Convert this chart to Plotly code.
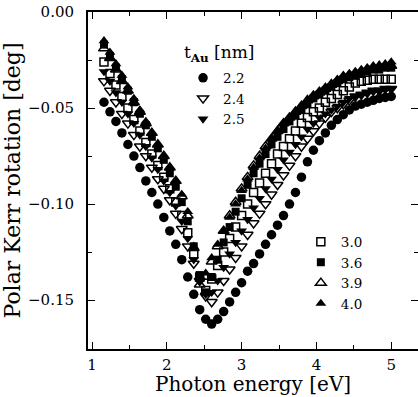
import plotly.graph_objects as go

energy = [1.16, 1.24, 1.32, 1.40, 1.48, 1.56, 1.64, 1.72, 1.80, 1.88,
          1.96, 2.04, 2.12, 2.20, 2.28, 2.36, 2.44, 2.52, 2.60, 2.68,
          2.76, 2.84, 2.92, 3.00, 3.08, 3.16, 3.24, 3.32, 3.40, 3.48,
          3.56, 3.64, 3.72, 3.80, 3.88, 3.96, 4.04, 4.12, 4.20, 4.28,
          4.36, 4.44, 4.52, 4.60, 4.68, 4.76, 4.84, 4.92, 5.00]

kerr_22 = [-0.047, -0.052, -0.057, -0.063, -0.069, -0.075, -0.081, -0.088, -0.094, -0.100,
           -0.107, -0.114, -0.121, -0.129, -0.138, -0.147, -0.155, -0.160, -0.1625, -0.160,
           -0.156, -0.151, -0.146, -0.141, -0.135, -0.131, -0.126, -0.121, -0.116, -0.111,
           -0.106, -0.100, -0.094, -0.086, -0.078, -0.072, -0.067, -0.063, -0.059, -0.056,
           -0.0535, -0.051, -0.049, -0.048, -0.047, -0.046, -0.045, -0.0445, -0.044]

kerr_24 = [-0.036, -0.041, -0.047, -0.053, -0.058, -0.064, -0.070, -0.075, -0.081, -0.087,
           -0.092, -0.098, -0.105, -0.113, -0.122, -0.131, -0.140, -0.148, -0.151, -0.146,
           -0.140, -0.134, -0.128, -0.122, -0.116, -0.110, -0.105, -0.100, -0.095, -0.090,
           -0.085, -0.080, -0.075, -0.070, -0.066, -0.062, -0.058, -0.055, -0.052, -0.050,
           -0.048, -0.046, -0.044, -0.043, -0.042, -0.041, -0.041, -0.040, -0.040]

kerr_25 = [-0.031, -0.036, -0.042, -0.047, -0.053, -0.058, -0.064, -0.070, -0.076, -0.082,
           -0.088, -0.094, -0.101, -0.109, -0.118, -0.129, -0.140, -0.147, -0.146, -0.140,
           -0.133, -0.126, -0.120, -0.114, -0.108, -0.102, -0.097, -0.092, -0.087, -0.082,
           -0.077, -0.073, -0.069, -0.065, -0.061, -0.058, -0.055, -0.053, -0.051, -0.049,
           -0.047, -0.045, -0.044, -0.043, -0.042, -0.041, -0.041, -0.040, -0.040]

kerr_30 = [-0.026, -0.032, -0.038, -0.044, -0.050, -0.056, -0.062, -0.068, -0.074, -0.080,
           -0.086, -0.092, -0.099, -0.106, -0.115, -0.126, -0.138, -0.145, -0.139, -0.132,
           -0.125, -0.118, -0.112, -0.106, -0.100, -0.094, -0.089, -0.084, -0.079, -0.074,
           -0.070, -0.066, -0.062, -0.058, -0.055, -0.052, -0.050, -0.047, -0.045, -0.043,
           -0.041, -0.039, -0.037, -0.036, -0.0355, -0.035, -0.035, -0.035, -0.035]

kerr_36 = [-0.017, -0.023, -0.029, -0.035, -0.041, -0.047, -0.053, -0.059, -0.065, -0.071,
           -0.077, -0.084, -0.091, -0.099, -0.109, -0.122, -0.137, -0.146, -0.138, -0.129,
           -0.120, -0.112, -0.104, -0.097, -0.090, -0.084, -0.079, -0.074, -0.069, -0.065,
           -0.061, -0.057, -0.054, -0.051, -0.048, -0.045, -0.043, -0.041, -0.039, -0.037,
           -0.035, -0.034, -0.033, -0.032, -0.031, -0.030, -0.030, -0.029, -0.029]

kerr_39 = [-0.019, -0.024, -0.030, -0.036, -0.041, -0.047, -0.052, -0.058, -0.063, -0.069,
           -0.075, -0.081, -0.088, -0.096, -0.106, -0.123, -0.142, -0.138, -0.130, -0.122,
           -0.114, -0.106, -0.099, -0.092, -0.086, -0.080, -0.075, -0.070, -0.066, -0.062,
           -0.058, -0.055, -0.052, -0.049, -0.046, -0.044, -0.042, -0.040, -0.038, -0.036,
           -0.034, -0.033, -0.032, -0.031, -0.030, -0.029, -0.029, -0.028, -0.028]

kerr_40 = [-0.015, -0.021, -0.027, -0.033, -0.039, -0.045, -0.051, -0.057, -0.063, -0.069,
           -0.075, -0.081, -0.088, -0.095, -0.104, -0.122, -0.139, -0.136, -0.128, -0.121,
           -0.114, -0.107, -0.100, -0.093, -0.087, -0.081, -0.076, -0.071, -0.066, -0.062,
           -0.058, -0.055, -0.052, -0.049, -0.046, -0.043, -0.041, -0.039, -0.037, -0.035,
           -0.033, -0.032, -0.031, -0.030, -0.029, -0.028, -0.0275, -0.027, -0.026]

thickness_labels = ["2.2", "2.4", "2.5", "3.0", "3.6", "3.9", "4.0"]
series = [kerr_22, kerr_24, kerr_25, kerr_30, kerr_36, kerr_39, kerr_40]
symbols = ["circle", "triangle-down-open", "triangle-down", "square-open",
           "square", "triangle-up-open", "triangle-up"]
sizes = [9.5, 9.5, 9.5, 8, 8, 9.5, 9.5]
legend_ids = ["legend", "legend", "legend", "legend2", "legend2", "legend2", "legend2"]

SERIF = "DejaVu Serif"

fig = go.Figure()
for lab, ys, sym, sz, lg in zip(thickness_labels, series, symbols, sizes, legend_ids):
    fig.add_trace(go.Scatter(
        x=energy, y=ys, mode="markers", name=lab, legend=lg,
        marker=dict(symbol=sym, size=sz, color="black",
                    line=dict(color="black", width=1.5 if "open" in sym else 0)),
    ))

axis_font = dict(family=SERIF, size=15, color="black")
minor_ticks_x = dict(dtick=0.5, tick0=0, ticks="inside", ticklen=4, tickwidth=1, tickcolor="black")
minor_ticks_y = dict(dtick=0.025, tick0=0, ticks="inside", ticklen=4, tickwidth=1, tickcolor="black")

fig.update_layout(
    width=418, height=397,
    margin=dict(l=88, r=0, t=12, b=48),
    paper_bgcolor="white", plot_bgcolor="white",
    font=dict(family=SERIF, color="black"),
    showlegend=True,
    xaxis=dict(range=[0.9465, 5.358], tickvals=[1, 2, 3, 4, 5],
               ticks="inside", ticklen=7, tickwidth=1.2, tickcolor="black",
               minor=minor_ticks_x,
               showline=True, linewidth=2, linecolor="black", mirror="ticks",
               showgrid=False, zeroline=False, tickfont=axis_font, ticklabelstandoff=1),
    yaxis=dict(range=[-0.1755, 0], tickvals=[0, -0.05, -0.10, -0.15], tickformat=".2f",
               ticks="inside", ticklen=7, tickwidth=1.2, tickcolor="black",
               minor=minor_ticks_y,
               showline=True, linewidth=2, linecolor="black",
               showgrid=False, zeroline=False, tickfont=axis_font, ticklabelstandoff=9,
               title=dict(text="Polar Kerr rotation [deg]", standoff=10,
                          font=dict(family=SERIF, size=22, color="black"))),
    yaxis2=dict(range=[-0.1755, 0], overlaying="y", side="right", matches="y",
                tickvals=[0, -0.05, -0.10, -0.15], showticklabels=False,
                ticks="inside", ticklen=7, tickwidth=1.2, tickcolor="black",
                minor=minor_ticks_y,
                showline=False, showgrid=False, zeroline=False),
    legend=dict(x=0.288, y=0.850, xanchor="left", yanchor="top",
                font=dict(family=SERIF, size=13.5), bgcolor="rgba(0,0,0,0)",
                itemwidth=30, tracegroupgap=0),
    legend2=dict(x=0.645, y=0.3635, xanchor="left", yanchor="top",
                 font=dict(family=SERIF, size=13.5), bgcolor="rgba(0,0,0,0)",
                 itemwidth=30, tracegroupgap=0),
    annotations=[
        dict(text="t<sub><b>Au</b></sub> [nm]", xref="paper", yref="paper", x=0.285, y=0.878,
             xanchor="left", yanchor="middle", showarrow=False,
             font=dict(family=SERIF, size=17, color="black")),
        dict(text="Photon energy [eV]", xref="paper", yref="paper", x=0.5, y=-0.1450,
             xanchor="center", yanchor="bottom", showarrow=False,
             font=dict(family=SERIF, size=20, color="black")),
    ],
)
# invisible trace so the right-hand tick axis is drawn
fig.add_trace(go.Scatter(x=[None], y=[None], yaxis="y2", showlegend=False, hoverinfo="skip"))

fig.write_html("out.html")
